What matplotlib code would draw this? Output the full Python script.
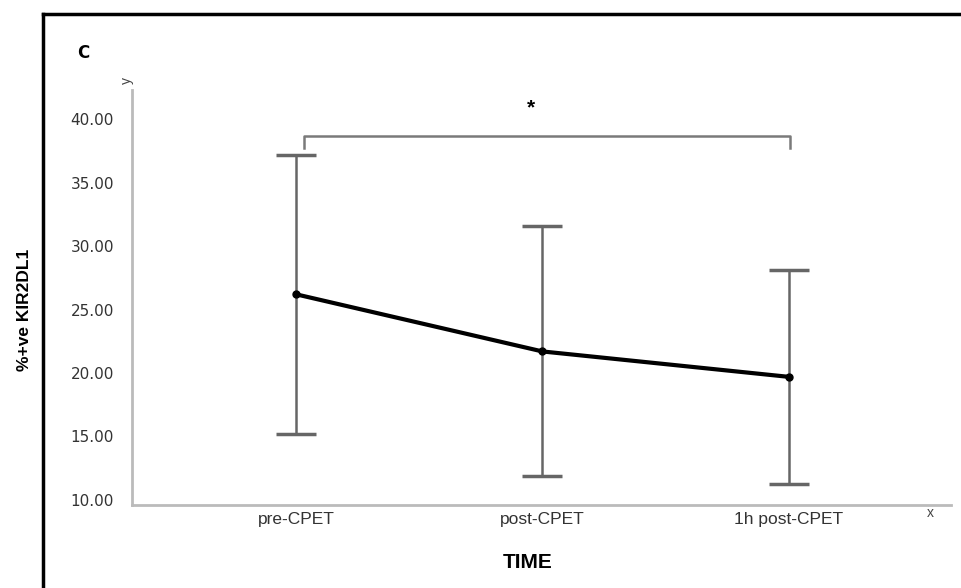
import matplotlib
matplotlib.use("Agg")
from matplotlib import pyplot as plt
from matplotlib.lines import Line2D
import numpy as np

# group means and SDs of %KIR2DL1+ cells at each sample time
times = ["pre-CPET", "post-CPET", "1h post-CPET"]
means = [26.2, 21.7, 19.7]
sds = [11.0, 9.85, 8.45]
yticks = [10, 15, 20, 25, 30, 35, 40]

plt.rcParams['font.family'] = ['Liberation Sans', 'DejaVu Sans']

W, H = 962, 588
fig = plt.figure(figsize=(W / 100, H / 100), dpi=100)

ax = fig.add_axes([132 / W, 1 - 505 / H, (951 - 132) / W, (505 - 90) / H])
x = np.arange(len(times))

ax.errorbar(x, means, yerr=sds, fmt='none', ecolor='#666666', elinewidth=1.8,
            capsize=14.5, capthick=2.5, zorder=2)
ax.plot(x, means, color='black', lw=3, marker='o', ms=5, zorder=3)

ax.set_xlim(-0.667, 2.66)
ax.set_ylim(9.6, 42.3)
ax.set_yticks(yticks)
ax.set_yticklabels(["%.2f" % v for v in yticks], fontsize=11, color='#333333',
                   family=['DejaVu Sans'])
ax.set_xticks(x)
ax.set_xticklabels(times, fontsize=12.5, color='#333333')
ax.tick_params(axis='y', length=0, pad=13)
ax.tick_params(axis='x', length=0, pad=5)
for s in ['top', 'right']:
    ax.spines[s].set_visible(False)
for s in ['left', 'bottom']:
    ax.spines[s].set_color('#bbbbbb')
    ax.spines[s].set_linewidth(2)

# significance bracket pre vs 1h post
bx0, bx1 = 0.03, 2.008
by, bdrop = 38.66, 37.7
ax.plot([bx0, bx0, bx1, bx1], [bdrop, by, by, bdrop], color='#7a7a7a', lw=1.8,
        clip_on=False)
ax.text(0.955, 40.9, "*", ha='center', va='center', fontsize=15, fontweight='bold')

# axis letters at the ends of the axes
fig.text(930 / W, 1 - 513 / H, "x", ha='center', va='center', fontsize=10,
         color='#444444')
fig.text(127 / W, 1 - 81 / H, "y", ha='center', va='center', fontsize=10,
         color='#444444', rotation=90)

fig.text(83 / W, 1 - 53 / H, "C", ha='center', va='center', fontsize=12,
         fontweight='bold', family=['DejaVu Sans'])
fig.text(25 / W, 1 - 310 / H, "%+ve KIR2DL1", ha='center', va='center',
         fontsize=12.5, fontweight='bold', rotation=90)
fig.text(528 / W, 1 - 562 / H, "TIME", ha='center', va='center', fontsize=15,
         fontweight='bold')

# panel frame
fig.add_artist(Line2D([43 / W, 1.0], [1 - 14 / H, 1 - 14 / H], color='black', lw=2.5))
fig.add_artist(Line2D([43 / W, 43 / W], [0.0, 1 - 14 / H], color='black', lw=2.5))

fig.savefig("out.png", dpi=100)
